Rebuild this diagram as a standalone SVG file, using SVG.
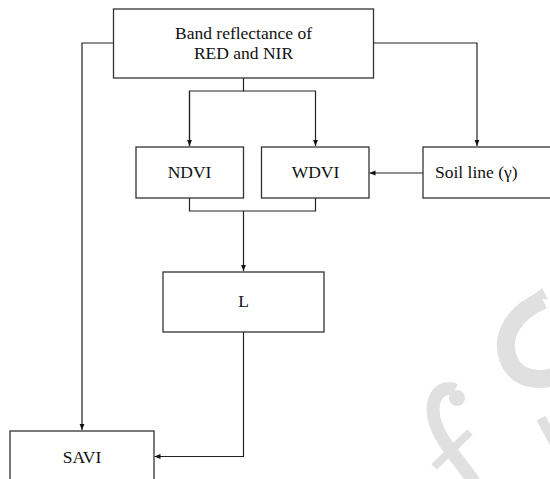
<svg xmlns="http://www.w3.org/2000/svg" width="550" height="479" viewBox="0 0 550 479">
<style>
.box{fill:#fff;stroke:#333;stroke-width:1.3}
.lbl{font-family:"Liberation Serif","Times New Roman",serif;font-size:17.5px;fill:#111;text-anchor:middle}
.con{fill:none;stroke:#222;stroke-width:1.2}
.wm{fill:none;stroke:#e0e0e0;stroke-linecap:butt}
</style>
<defs>
<marker id="ah" viewBox="0 0 10 10" refX="10" refY="5" markerWidth="6" markerHeight="6" markerUnits="userSpaceOnUse" orient="auto">
<path d="M0,1 L10,5 L0,9 Z" fill="#111"/>
</marker>
</defs>
<rect width="550" height="479" fill="#fff"/>
<g id="watermark">
<path class="wm" stroke-width="13" d="M455,390 C442,384 430,396 434,418 C439,442 462,462 478,488"/>
<circle cx="457" cy="398" r="8" fill="#e0e0e0"/>
<path class="wm" stroke-width="8" d="M434,467 L470,432"/>
<path class="wm" stroke-width="18" d="M543,300 C515,312 500,335 508,358 C516,380 538,382 556,376"/>
<path d="M532,296 L542,288 L548,300 Z" fill="#e0e0e0"/>
<path class="wm" stroke-width="10" d="M541,418 L556,446"/>
</g>
<g id="connectors">
<path class="con" d="M113.5,43 H82 V430" marker-end="url(#ah)"/>
<path class="con" d="M373.5,43 H477 V146" marker-end="url(#ah)"/>
<path class="con" d="M243.5,78 V91 H189.5 V146"/>
<path class="con" d="M243.5,91 H315.5 V146" marker-end="url(#ah)"/>
<path class="con" d="M189.5,91 V146" marker-end="url(#ah)"/>
<path class="con" d="M423,173 H369.5" marker-end="url(#ah)"/>
<path class="con" d="M189.5,198 V211 H315.5 V198"/>
<path class="con" d="M243.5,211 V271" marker-end="url(#ah)"/>
<path class="con" d="M243.5,332 V456.5 H154.5" marker-end="url(#ah)"/>
</g>
<g id="node-band">
<rect class="box" x="113.5" y="9" width="260" height="69"/>
<text class="lbl" x="243.5" y="39.3">Band reflectance of</text>
<text class="lbl" x="243.5" y="59.3">RED and NIR</text>
</g>
<g id="node-ndvi">
<rect class="box" x="136" y="147" width="107.5" height="51"/>
<text class="lbl" x="189.5" y="178.3">NDVI</text>
</g>
<g id="node-wdvi">
<rect class="box" x="261.5" y="147" width="107.5" height="51"/>
<text class="lbl" x="315.5" y="178.3">WDVI</text>
</g>
<g id="node-soil">
<rect class="box" x="423" y="147" width="140" height="51"/>
<text class="lbl" x="435" y="178.3" style="text-anchor:start">Soil line (γ)</text>
</g>
<g id="node-l">
<rect class="box" x="163" y="272" width="161" height="60"/>
<text class="lbl" x="243.5" y="306.7">L</text>
</g>
<g id="node-savi">
<rect class="box" x="10" y="431" width="144" height="60"/>
<text class="lbl" x="82" y="462.7">SAVI</text>
</g>
</svg>
